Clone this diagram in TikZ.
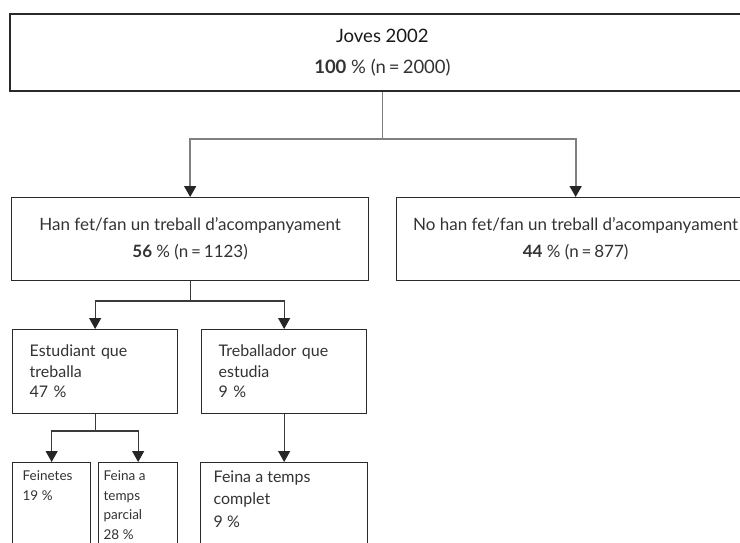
\documentclass[tikz,border=0pt]{standalone}
\usepackage{fontspec}
\setmainfont{Lato}
\usetikzlibrary{arrows.meta}
\definecolor{boxc}{HTML}{2A2A2A}
\definecolor{txtc}{HTML}{333333}
\definecolor{linec}{HTML}{808080}
\definecolor{linec2}{HTML}{3A3A3A}
\tikzset{
  box/.style={draw=boxc, line width=1.3pt, rectangle, inner sep=0pt, text=txtc, anchor=north west},
  bigbox/.style={box, line width=1.9pt},
  conn/.style={draw=linec, line width=1.7pt},
  conna/.style={conn, -{Triangle[width=12pt,length=11pt,color=black!85]}},
  connb/.style={draw=linec2, line width=1.1pt},
  connba/.style={connb, -{Triangle[width=12pt,length=11pt,color=black!85]}},
}
\begin{document}
\begin{tikzpicture}[x=1pt,y=-1pt]
\clip (0,0) rectangle (740,542);
\fill[white] (0,0) rectangle (740,542);
% top
\node[bigbox, minimum width=745pt, minimum height=77pt, align=center,
  font=\fontsize{18.5}{31}\selectfont] (top) at (9,13)
  {\textcolor{black!90}{Joves 2002}\\\textbf{100} \% (n\,=\,2000)};
% level 2
\node[box, minimum width=357pt, minimum height=83pt, align=center,
  font=\fontsize{17}{27}\selectfont] (han) at (11,197)
  {Han fet/fan un treball d’acompanyament\\\textbf{56} \% (n\,=\,1123)};
\node[box, minimum width=358pt, minimum height=83pt, align=center,
  font=\fontsize{17}{27}\selectfont] (nohan) at (396,197)
  {No han fet/fan un treball d’acompanyament\\\textbf{44} \% (n\,=\,877)};
% level 3
\node[box, minimum width=165pt, minimum height=84pt, align=left,
  text width=131pt, font=\fontsize{16}{20.5}\selectfont] (est) at (12,329)
  {Estudiant que\\treballa\\47 \%};
\node[box, minimum width=165pt, minimum height=84pt, align=left,
  text width=131pt, font=\fontsize{16}{20.5}\selectfont] (treb) at (201,329)
  {Treballador que\\estudia\\9 \%};
% level 4
\node[box, inner xsep=10pt, inner ysep=0pt, font=\fontsize{13.5}{19.5}\selectfont] (fei) at (12,462)
  {\parbox[t][110pt][t]{58pt}{\vspace*{8pt}Feinetes\\19 \%}};
\node[box, inner xsep=5pt, inner ysep=0pt, font=\fontsize{13.5}{19.5}\selectfont] (parc) at (98,462)
  {\parbox[t][110pt][t]{69pt}{\vspace*{8pt}Feina a\\temps\\parcial\\28 \%}};
\node[box, inner xsep=13pt, inner ysep=0pt, font=\fontsize{16}{22.5}\selectfont] (comp) at (200,462)
  {\parbox[t][110pt][t]{141pt}{\vspace*{8pt}Feina a temps\\complet\\9 \%}};
% connectors
\coordinate (j1) at (top.south |- 0,139);
\draw[conn] (top.south) -- (j1);
\draw[conna] (j1) -| (han.north);
\draw[conna] (j1) -| (nohan.north);
\coordinate (j2) at (han.south |- 0,301);
\draw[connb] (han.south) -- (j2);
\draw[connba] (j2) -| (est.north);
\draw[connba] (j2) -| (treb.north);
\coordinate (j3) at (est.south |- 0,431);
\draw[connb] (est.south) -- (j3);
\draw[connba] (j3) -| (fei.north);
\draw[connba] (j3) -| (parc.north);
\draw[connba] (treb.south) -- (comp.north);
\end{tikzpicture}
\end{document}
